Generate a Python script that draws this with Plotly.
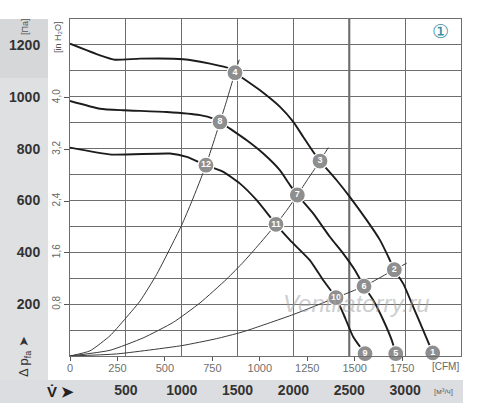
import plotly.graph_objects as go

# ---------------- data (m³/h, Pa) ----------------
M3H_PER_CFM = 1.699
PA_PER_INH2O = 249.089

fan_hi_q = [0, 269, 403, 627, 1014, 1253, 1432, 1477, 1701, 1880, 1999, 2088, 2178, 2238,
            2387, 2506, 2656, 2775, 2850, 2903, 2983, 3073, 3162, 3247]
fan_hi_p = [1205, 1160, 1143, 1147, 1145, 1128, 1109, 1093, 1025, 961, 903, 845, 787, 752,
            678, 613, 524, 447, 382, 333, 279, 189, 99, 12]

fan_mid_q = [0, 269, 477, 866, 1164, 1283, 1343, 1432, 1582, 1730, 1880, 1969, 2035, 2178,
             2327, 2446, 2551, 2632, 2715, 2805, 2880, 2916]
fan_mid_p = [984, 954, 948, 941, 929, 916, 903, 877, 832, 781, 716, 659, 621, 549,
             459, 395, 331, 269, 215, 138, 61, 9]

fan_lo_q = [0, 373, 895, 1045, 1217, 1372, 1522, 1671, 1844, 1969, 2148, 2267, 2381,
            2446, 2536, 2641]
fan_lo_p = [804, 777, 781, 768, 736, 710, 665, 601, 508, 447, 369, 292, 225,
            164, 73, 9]

sys1_q = [0, 179, 358, 477, 627, 776, 925, 1000, 1089, 1217, 1343, 1403, 1477, 1515]
sys1_p = [0, 20, 78, 135, 212, 315, 440, 505, 595, 736, 903, 986, 1093, 1143]

sys2_q = [0, 358, 656, 925, 1164, 1403, 1551, 1671, 1844, 1940, 2035, 2133, 2238, 2312]
sys2_p = [0, 22, 70, 130, 205, 297, 362, 420, 508, 562, 621, 685, 752, 804]

sys3_q = [0, 418, 1000, 1313, 1522, 1611, 1999, 2381, 2632, 2903, 3014]
sys3_p = [0, 8, 40, 67, 90, 102, 160, 225, 269, 333, 358]

pt_labels = ["1", "2", "3", "4", "5", "6", "7", "8", "9", "10", "11", "12"]
pt_q = [3247, 2903, 2238, 1477, 2916, 2632, 2035, 1343, 2641, 2381, 1844, 1217]
pt_p = [12, 333, 752, 1093, 9, 269, 621, 903, 9, 225, 508, 736]

m3h_ticks = [500, 1000, 1500, 2000, 2500, 3000]
cfm_ticks = [0, 250, 500, 750, 1000, 1250, 1500, 1750]
pa_ticks = [200, 400, 600, 800, 1000, 1200]
inh2o_ticks = [0.8, 1.6, 2.4, 3.2, 4.0]
inh2o_text = ["0,8", "1,6", "2,4", "3,2", "4,0"]

Q_MAX = 3500
P_MAX = 1300
HIGHLIGHT_Q = 2500

# ---------------- figure ----------------
W, H = 500, 408
ML, MR, MT, MB = 70, 39, 19, 52
PW, PH = W - ML - MR, H - MT - MB


def px(xp):
    return (xp - ML) / PW


def py(yp):
    return (H - MB - yp) / PH


GRID = "#6e6e6e"
FONT = "Liberation Sans, Arial, sans-serif"

fig = go.Figure()

for q, p in [(sys1_q, sys1_p), (sys2_q, sys2_p), (sys3_q, sys3_p)]:
    fig.add_trace(go.Scatter(x=q, y=p, mode="lines", line=dict(color="#3a3a3a", width=1,
                             shape="spline", smoothing=0.5), hoverinfo="skip", showlegend=False))

for q, p in [(fan_hi_q, fan_hi_p), (fan_mid_q, fan_mid_p), (fan_lo_q, fan_lo_p)]:
    fig.add_trace(go.Scatter(x=q, y=p, mode="lines", line=dict(color="#1c1c1c", width=1.9,
                             shape="spline", smoothing=0.5), hoverinfo="skip", showlegend=False))

fig.add_trace(go.Scatter(
    x=pt_q, y=pt_p, mode="markers+text", text=pt_labels, textposition="middle center",
    textfont=dict(family=FONT, size=9, color="white", weight="bold"),
    marker=dict(size=16, color="#8e8e8e", line=dict(color="white", width=1.2)),
    cliponaxis=False, hoverinfo="skip", showlegend=False))

# helper traces to activate secondary axes (invisible)
fig.add_trace(go.Scatter(x=[0], y=[0], xaxis="x2", yaxis="y", mode="markers",
                         marker=dict(opacity=0), hoverinfo="skip", showlegend=False))
fig.add_trace(go.Scatter(x=[0], y=[0], xaxis="x", yaxis="y2", mode="markers",
                         marker=dict(opacity=0), hoverinfo="skip", showlegend=False))

shapes = [
    dict(type="rect", xref="paper", yref="paper", x0=px(0), x1=px(48), y0=py(380), y1=py(78),
         fillcolor="#dfe0e2", line=dict(width=0), layer="below"),
    dict(type="rect", xref="paper", yref="paper", x0=px(0), x1=px(48), y0=py(78), y1=py(19),
         fillcolor="#d6d7d9", line=dict(width=0), layer="below"),
    dict(type="rect", xref="paper", yref="paper", x0=px(0), x1=px(463), y0=py(403), y1=py(380),
         fillcolor="#dcdde0", line=dict(width=0), layer="below"),
    dict(type="line", xref="x", yref="paper", x0=HIGHLIGHT_Q, x1=HIGHLIGHT_Q, y0=0, y1=1,
         line=dict(color="#5a5a5a", width=2), layer="below"),
]

ann = []


def add_text(x, y, text, size, color="#333", angle=0, bold=False, italic=False, family=FONT):
    ann.append(dict(x=px(x), y=py(y), xref="paper", yref="paper", text=text, showarrow=False,
                    xanchor="center", yanchor="middle", textangle=angle,
                    font=dict(family=family, size=size, color=color,
                              weight="bold" if bold else "normal",
                              style="italic" if italic else "normal")))


add_text(25, 27, "[Па]", 9, "#555", angle=-90)
add_text(58, 37, "[in H₂O]", 9, "#555", angle=-90)
add_text(24, 357, "Δ p<sub>fa</sub> ➤", 13, "#333", angle=-90)
add_text(60, 391, "V̇ ➤", 15, "#222", bold=True)
add_text(445, 367, "[CFM]", 10, "#666")
add_text(443, 391, "[м³/ч]", 8, "#666")
add_text(440, 31, "①", 19, "#3b8fa3", family="DejaVu Sans")
add_text(356, 303, "Ventilatorry.ru", 24, "rgba(165,165,165,0.55)", italic=True)

fig.update_layout(
    width=W, height=H,
    margin=dict(l=ML, r=MR, t=MT, b=MB, pad=0, autoexpand=False),
    paper_bgcolor="white", plot_bgcolor="white",
    showlegend=False,
    shapes=shapes, annotations=ann,
    xaxis=dict(range=[0, Q_MAX], tickmode="array", tickvals=m3h_ticks, automargin=False,
               ticktext=[str(v) for v in m3h_ticks], showgrid=True, gridcolor=GRID, gridwidth=1,
               showline=True, mirror=True, linecolor=GRID, linewidth=1, zeroline=False,
               ticks="", ticklabelstandoff=21,
               tickfont=dict(family=FONT, size=14, color="#333", weight="bold")),
    xaxis2=dict(range=[0, Q_MAX / M3H_PER_CFM], overlaying="x", anchor="y", side="bottom",
                automargin=False,
                tickmode="array", tickvals=cfm_ticks, ticktext=[str(v) for v in cfm_ticks],
                showgrid=False, zeroline=False, showline=False, ticks="outside", ticklen=4,
                ticklabelstandoff=-2,
                tickcolor="#555", tickfont=dict(family=FONT, size=11, color="#6f6f6f")),
    yaxis=dict(range=[0, P_MAX], tickmode="array", tickvals=pa_ticks, automargin=False,
               ticktext=[str(v) for v in pa_ticks], showgrid=True, gridcolor=GRID, gridwidth=1,
               minor=dict(dtick=100, tick0=0, showgrid=True, gridcolor=GRID, gridwidth=1, ticks=""),
               showline=True, mirror=True, linecolor=GRID, linewidth=1, zeroline=False,
               ticks="", ticklabelstandoff=26,
               tickfont=dict(family=FONT, size=14, color="#333", weight="bold")),
    yaxis2=dict(range=[0, P_MAX / PA_PER_INH2O], overlaying="y", anchor="x", side="left",
                automargin=False,
                tickmode="array", tickvals=inh2o_ticks, ticktext=inh2o_text, tickangle=-90,
                showgrid=False, zeroline=False, showline=False, ticks="outside", ticklen=5,
                ticklabelstandoff=0,
                tickcolor="#555", tickfont=dict(family=FONT, size=10, color="#666")),
)

fig.write_html("out.html", config={"displayModeBar": False},
               post_script="document.body.style.margin='0';document.body.style.overflow='hidden';")
